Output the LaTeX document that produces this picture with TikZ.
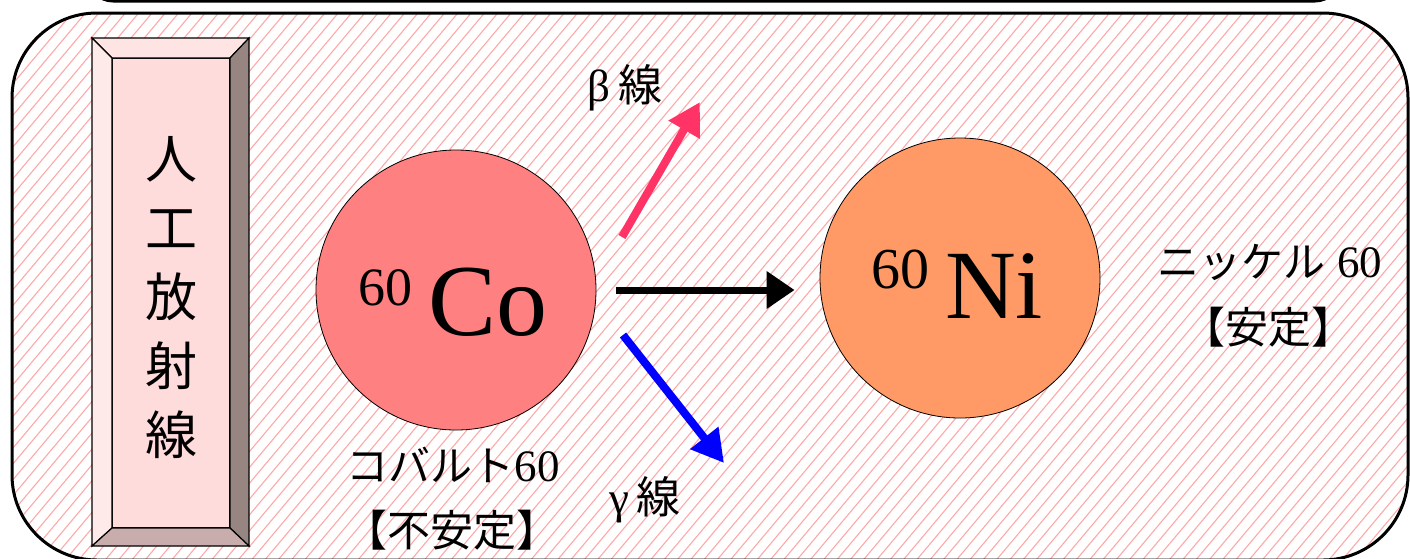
\documentclass[tikz,border=0pt]{standalone}
\usepackage{fontspec}
\setmainfont{Liberation Serif}
\newfontfamily\jp{Noto Sans CJK JP}
\usepackage{tikz}
\usetikzlibrary{arrows.meta}
\usepackage{xcolor}
\definecolor{hatchpink}{RGB}{255,168,168}
\definecolor{cofill}{RGB}{255,128,128}
\definecolor{nifill}{RGB}{255,153,102}
\definecolor{betared}{RGB}{255,51,102}
\definecolor{bevelface}{RGB}{255,220,220}
\definecolor{beveltop}{RGB}{255,228,228}
\definecolor{bevelleft}{RGB}{255,234,234}
\definecolor{bevelright}{RGB}{151,133,130}
\definecolor{bevelbottom}{RGB}{201,173,173}

\begin{document}
\begin{tikzpicture}[x=1pt,y=-1pt,line join=miter,
  nucleus/.style={circle,draw=black,line width=0.8pt,minimum size=280pt,inner sep=0pt},
  ray/.style={line width=8pt,-{Triangle[length=32pt,width=34pt]}},
  caption/.style={font=\fontsize{45}{50}\selectfont,inner sep=0pt},
  bevel/.style={draw=black,line width=1.2pt}]
\useasboundingbox (0,0) rectangle (1410,558);
\draw[line width=3pt,rounded corners=25pt] (88,-80) rectangle (1340,1);
\begin{scope}
\clip[rounded corners=85pt] (12,13) rectangle (1408,560);
\foreach \i in {-480,-466.7,...,1420}
  \draw[hatchpink,line width=1.1pt] (\i,560) -- ++(470,-560);
\end{scope}
\draw[line width=3pt,rounded corners=85pt] (12,13) rectangle (1408,560);
\filldraw[bevel,fill=bevelface] (112,58) rectangle (230,528);
\filldraw[bevel,fill=beveltop] (92,38) -- (249,38) -- (230,58) -- (112,58) -- cycle;
\filldraw[bevel,fill=bevelleft] (92,38) -- (112,58) -- (112,528) -- (92,546) -- cycle;
\filldraw[bevel,fill=bevelright] (249,38) -- (249,546) -- (230,528) -- (230,58) -- cycle;
\filldraw[bevel,fill=bevelbottom] (92,546) -- (249,546) -- (230,528) -- (112,528) -- cycle;
\node[font=\jp\fontsize{52}{69}\selectfont,align=center] (kanji) at (171,298) {人\\工\\放\\射\\線};
\node[nucleus,fill=cofill] (co) at (456,290) {};
\node[nucleus,fill=nifill] (ni) at (960,278) {};
\node[anchor=base west,inner sep=0pt] (cosym) at (358,335)
  {{\fontsize{54}{54}\selectfont\raisebox{30pt}{60}}\hspace{16pt}{\fontsize{102}{102}\selectfont Co}};
\node[anchor=base west,inner sep=0pt] (nisym) at (871,318)
  {{\fontsize{58}{58}\selectfont\raisebox{30pt}{60}}\hspace{16pt}{\fontsize{98}{98}\selectfont Ni}};
\coordinate (betatail) at (622,237);
\coordinate (betatip) at (700,102);
\coordinate (gammatail) at (623,335);
\coordinate (gammatip) at (724,463);
\draw[ray,betared] (betatail) -- (betatip);
\draw[ray,blue] (gammatail) -- (gammatip);
\draw[line width=7pt,-{Triangle[length=28pt,width=36pt]},shorten <=20pt,shorten >=25pt]
  (co.east) -- (co.east -| ni.west);
\node[caption] (beta) at (625,88) {β\,{\jp\fontsize{44}{50}\selectfont 線}};
\node[caption] (gamma) at (645,500) {γ\,{\jp\fontsize{44}{50}\selectfont 線}};
\node[caption] (coname) at (453,465) {{\jp\fontsize{42}{46}\selectfont コバルト}60};
\node[caption] (costate) at (452,530) {{\jp\fontsize{43}{46}\selectfont 【不安定】}};
\node[caption] (niname) at (1270,262) {{\jp\fontsize{42}{46}\selectfont ニッケル} 60};
\node[caption] (nistate) at (1268,327) {{\jp\fontsize{43}{46}\selectfont 【安定】}};
\end{tikzpicture}
\end{document}
